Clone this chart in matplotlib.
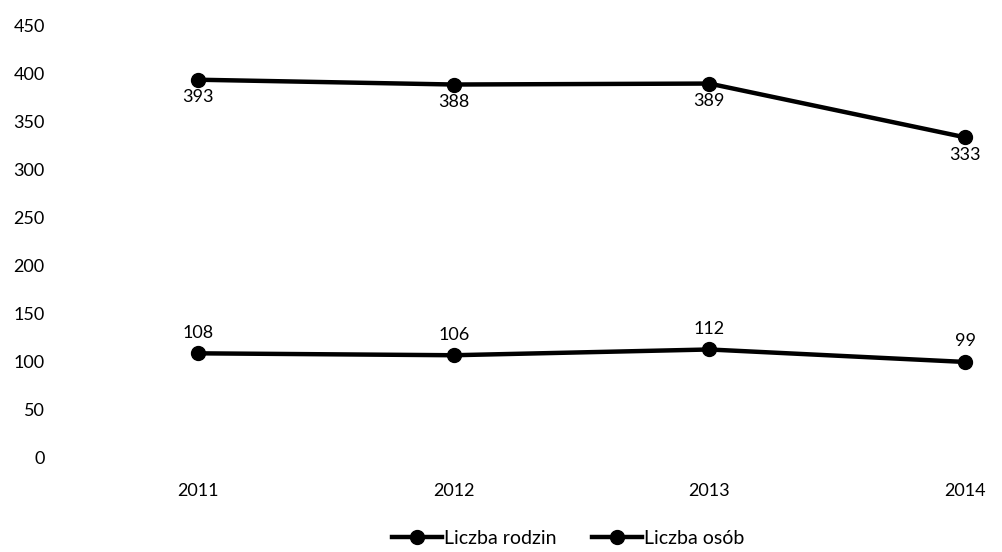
import matplotlib.pyplot as plt

years = ["2011", "2012", "2013", "2014"]
rodziny = [108, 106, 112, 99]
osoby = [393, 388, 389, 333]

plt.rcParams['font.family'] = ['Lato', 'DejaVu Sans']

fig = plt.figure(figsize=(10.02, 5.52), dpi=100)
# axes placed in pixel terms of the reference
ax = fig.add_axes([60 / 1002, (552 - 457) / 552, 940 / 1002, (457 - 25) / 552])

x = list(range(len(years)))
ax.plot(x, rodziny, color='black', lw=3.2, marker='o', ms=10, label='Liczba rodzin')
ax.plot(x, osoby, color='black', lw=3.2, marker='o', ms=10, label='Liczba osób')

for xi, v in zip(x, rodziny):
    ax.annotate(str(v), (xi, v), xytext=(0, 9), textcoords='offset points',
                ha='center', va='bottom', fontsize=13)
for xi, v in zip(x, osoby):
    ax.annotate(str(v), (xi, v), xytext=(0, -7), textcoords='offset points',
                ha='center', va='top', fontsize=13)

ax.set_ylim(0, 450)
ax.set_yticks(range(0, 451, 50))
ax.set_xlim(-138 / 255.7, 3 + 35 / 255.7)
ax.set_xticks(x)
ax.set_xticklabels(years)
ax.tick_params(length=0, labelsize=13)
ax.tick_params(axis='x', pad=19)
ax.tick_params(axis='y', pad=11)
for s in ax.spines.values():
    s.set_visible(False)

fig.legend(loc='center', bbox_to_anchor=(568 / 1002, 1 - 538 / 552), ncol=2,
           frameon=False, fontsize=14, handlelength=2.6, handletextpad=0.1,
           columnspacing=1.8)

fig.savefig('out.png', dpi=100)
